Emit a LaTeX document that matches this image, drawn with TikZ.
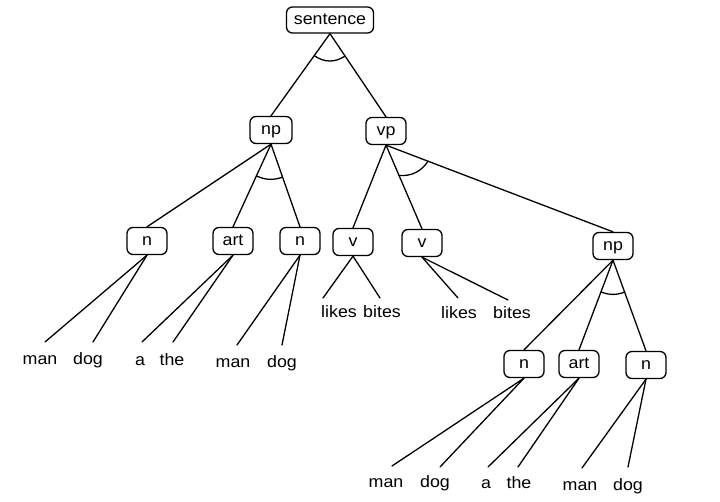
\documentclass[tikz,border=0pt]{standalone}
\usepackage{fontspec}
\setmainfont{Liberation Sans}[FakeStretch=1.08]
\usetikzlibrary{calc}
\begin{document}
\begin{tikzpicture}[x=1pt,y=-1pt,line width=1.3pt,line cap=round,
  txt/.style={font=\fontsize{16.5}{19}\selectfont},
  cat/.style={txt,draw,rounded corners=6pt,minimum width=40pt,minimum height=27pt,
    inner sep=2pt,text height=12.3pt,text depth=3.7pt},
  leaf/.style={txt,anchor=base,inner sep=0pt},
  andarc/.style={line width=1.3pt}]
\useasboundingbox (0,0) rectangle (720,501);
% category nodes
\node[cat,minimum width=87pt,minimum height=26pt] (s) at (330,20) {sentence};
\node[cat,minimum width=42pt] (np1) at (271,130) {np};
\node[cat] (vp) at (386,131) {vp};
\node[cat] (n1) at (147,241) {n};
\node[cat] (art1) at (233,241) {art};
\node[cat] (n2) at (300,241) {n};
\node[cat] (v1) at (353,242) {v};
\node[cat] (v2) at (422,243) {v};
\node[cat] (np2) at (613,246) {np};
\node[cat] (n3) at (524,364) {n};
\node[cat] (art3) at (579,364) {art};
\node[cat] (n4) at (646,365) {n};
% leaf words
\node[leaf] (w1) at (40,364) {man};
\node[leaf] (w2) at (88,364) {dog};
\node[leaf] (w3) at (140,365) {a};
\node[leaf] (w4) at (172,365) {the};
\node[leaf] (w5) at (233,367) {man};
\node[leaf] (w6) at (282,367) {dog};
\node[leaf] (w7) at (339,317) {likes};
\node[leaf] (w8) at (382,317) {bites};
\node[leaf] (w9) at (459,318) {likes};
\node[leaf] (w10) at (512,318) {bites};
\node[leaf] (w11) at (386,487) {man};
\node[leaf] (w12) at (435,487) {dog};
\node[leaf] (w13) at (486,488) {a};
\node[leaf] (w14) at (519,488) {the};
\node[leaf] (w15) at (580,490) {man};
\node[leaf] (w16) at (628,490) {dog};
% free ends of leaf connectors
\coordinate (e1) at (45,342);
\coordinate (e2) at (93,342);
\coordinate (e3) at (142,342);
\coordinate (e4) at (173,342);
\coordinate (e5) at (237,345);
\coordinate (e6) at (282,345);
\coordinate (e7) at (323,298);
\coordinate (e8) at (380,298);
\coordinate (e9) at (458,298);
\coordinate (e10) at (508,300);
\coordinate (e11) at (392,466);
\coordinate (e12) at (440,467);
\coordinate (e13) at (488,467);
\coordinate (e14) at (518,467);
\coordinate (e15) at (582,468);
\coordinate (e16) at (628,467);
% tree connectors
\draw (s.south) -- (np1.north);
\draw (s.south) -- (vp.north);
\draw (np1.south) -- (n1.north);
\draw (np1.south) -- (art1.north);
\draw (np1.south) -- (n2.north);
\draw (vp.south) -- (v1.north);
\draw (vp.south) -- (v2.north);
\draw (vp.south) -- (np2.north);
\draw (np2.south) -- (n3.north);
\draw (np2.south) -- (art3.north);
\draw (np2.south) -- (n4.north);
% leaf connectors
\draw (n1.south) -- (e1);
\draw (n1.south) -- (e2);
\draw (art1.south) -- (e3);
\draw (art1.south) -- (e4);
\draw (n2.south) -- (e5);
\draw (n2.south) -- (e6);
\draw (v1.south) -- (e7);
\draw (v1.south) -- (e8);
\draw (v2.south) -- (e9);
\draw (v2.south) -- (e10);
\draw (n3.south) -- (e11);
\draw (n3.south) -- (e12);
\draw (art3.south) -- (e13);
\draw (art3.south) -- (e14);
\draw (n4.south) -- (e15);
\draw (n4.south) -- (e16);
% AND arcs
\draw[andarc] ($(s.south)!27pt!(np1.north)$) to[bend right=35] ($(s.south)!27pt!(vp.north)$);
\draw[andarc] ($(np1.south)!35pt!(art1.north)$) to[bend right=21] ($(np1.south)!35pt!(n2.north)$);
\draw[andarc] ($(vp.south)!33pt!(v2.north)$) to[bend right=30] ($(vp.south)!45pt!(np2.north)$);
\draw[andarc] ($(np2.south)!34pt!(art3.north)$) to[bend right=20] ($(np2.south)!34pt!(n4.north)$);
\end{tikzpicture}
\end{document}
